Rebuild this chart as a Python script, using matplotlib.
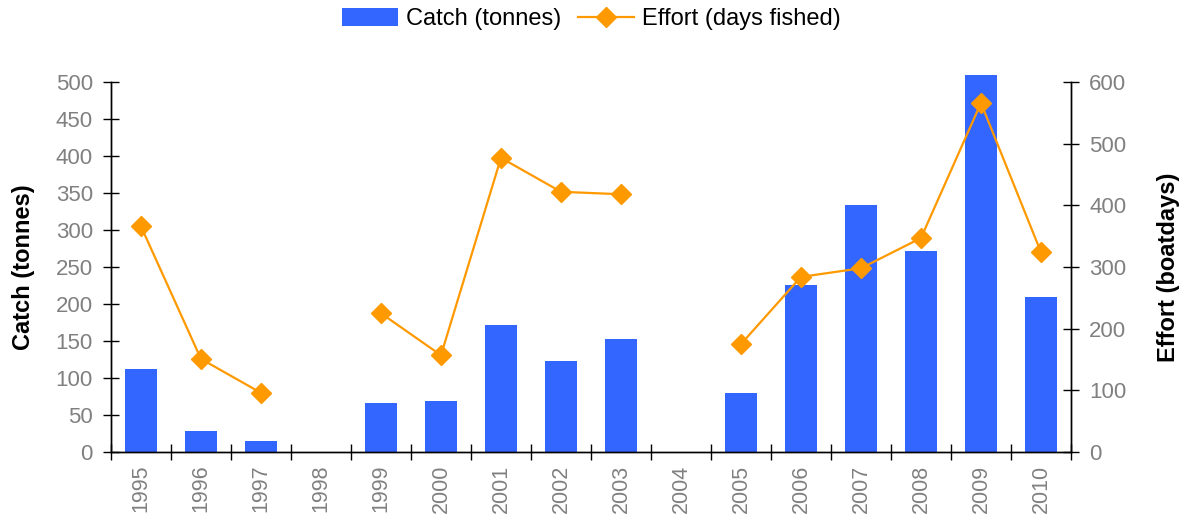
import numpy as np
import matplotlib.pyplot as plt
from matplotlib.ticker import FixedLocator

# Data
years = ['1995', '1996', '1997', '1998', '1999', '2000', '2001', '2002',
         '2003', '2004', '2005', '2006', '2007', '2008', '2009', '2010']
catch = [112, 28, 15, 0, 66, 69, 172, 123, 153, 0, 80, 226, 334, 272, 509, 209]
effort = [366, 151, 96, np.nan, 225, 157, 477, 422, 418, np.nan,
          175, 284, 298, 347, 566, 324]

plt.rcParams['font.family'] = ['Liberation Sans', 'DejaVu Sans']

bar_color = '#3366FF'
line_color = '#FF9900'
grey = '#808080'

fig = plt.figure(figsize=(11.83, 5.19), dpi=100)
ax = fig.add_axes([0.0938, 0.129, 0.8115, 0.713])
ax2 = ax.twinx()

x = np.arange(len(years))
bars = ax.bar(x, catch, width=0.54, color=bar_color, label='Catch (tonnes)',
              clip_on=False, zorder=2)
line, = ax2.plot(x, effort, color=line_color, lw=1.6, marker='D', ms=10,
                 label='Effort (days fished)', zorder=3)

ax.set_xlim(-0.5, len(years) - 0.5)
ax.set_ylim(0, 500)
ax2.set_ylim(0, 600)
ax.set_yticks(np.arange(0, 501, 50))
ax2.set_yticks(np.arange(0, 601, 100))

# category boundaries as ticks, labels at centres
ax.xaxis.set_major_locator(FixedLocator(np.arange(-0.5, len(years), 1)))
ax.set_xticklabels([])
ax.xaxis.set_minor_locator(FixedLocator(x))
ax.set_xticklabels(years, minor=True, rotation=90, color=grey, fontsize=15.5)
ax.tick_params(axis='x', which='minor', length=0, pad=9)
ax.tick_params(axis='x', which='major', direction='inout', length=12, width=1)

ax.tick_params(axis='y', direction='inout', length=12, width=1,
               labelcolor=grey, labelsize=16, pad=7)
ax2.tick_params(axis='y', direction='inout', length=12, width=1,
                labelcolor=grey, labelsize=16, pad=7)

for a in (ax, ax2):
    a.spines['top'].set_visible(False)
    for s in ('left', 'right', 'bottom'):
        a.spines[s].set_color('black')
        a.spines[s].set_linewidth(1)

ax.set_ylabel('Catch (tonnes)', fontsize=17, fontweight='bold', labelpad=15)
ax2.set_ylabel('Effort (boatdays)', fontsize=17, fontweight='bold', labelpad=22)

ax2.set_zorder(ax.get_zorder() + 1)
ax2.patch.set_visible(False)

fig.legend(handles=[bars, line], loc='upper center', bbox_to_anchor=(0.5, 1.025),
           ncol=2, frameon=False, fontsize=17, handlelength=2.35,
           handleheight=0.75, columnspacing=0.7, handletextpad=0.35)

fig.savefig('out.png', dpi=100)
